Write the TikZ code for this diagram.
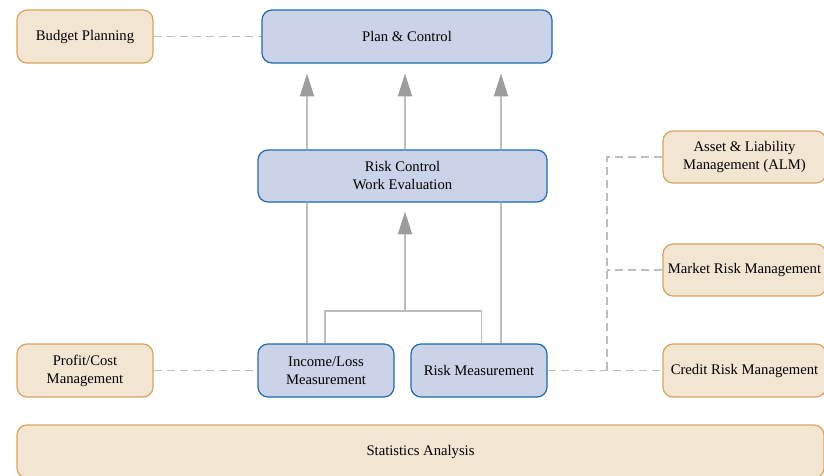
\documentclass[tikz,border=0pt]{standalone}
\usepackage{fontspec}
\setmainfont{Liberation Serif}
\usetikzlibrary{arrows.meta,backgrounds}
\definecolor{bluefill}{HTML}{CBD3E8}
\definecolor{blueline}{HTML}{1E6BB0}
\definecolor{orfill}{HTML}{F2E5D2}
\definecolor{orline}{HTML}{D9A55C}
\definecolor{conn}{HTML}{BDBDBD}
\definecolor{headc}{HTML}{9C9C9C}
\tikzset{
  boxbase/.style={rounded corners=7.5pt, line width=0.9pt, align=center, inner sep=0pt,
    font=\fontsize{11pt}{13.5pt}\selectfont},
  bluebox/.style={boxbase, draw=blueline, fill=bluefill},
  orbox/.style={boxbase, draw=orline, fill=orfill},
  solidconn/.style={draw=conn, line width=1.1pt},
  thinconn/.style={draw=conn, line width=0.8pt},
  dashconn/.style={draw=conn, line width=1pt, dash pattern=on 6pt off 3.75pt},
  uparrow/.style={solidconn, -{Triangle[length=17pt,width=10.5pt,color=headc]}}
}
\begin{document}
\begin{tikzpicture}[x=0.75pt,y=-0.75pt]
\clip (0,0) rectangle (824,475);
% nodes
\node[orbox, minimum width=102pt, minimum height=39.75pt] (budget) at (85,36.5) {Budget Planning};
\node[bluebox, minimum width=217.5pt, minimum height=39.75pt] (plan) at (407,36.5) {Plan \& Control};
\node[bluebox, minimum width=216.75pt, minimum height=39pt] (rcwe) at (402.5,176) {Risk Control\\Work Evaluation};
\node[bluebox, minimum width=102pt, minimum height=39.75pt] (income) at (326,370.5) {Income/Loss\\Measurement};
\node[bluebox, minimum width=102pt, minimum height=39.75pt] (riskm) at (479,370.5) {Risk Measurement};
\node[orbox, minimum width=102pt, minimum height=39.75pt] (profit) at (85,370.5) {Profit/Cost\\Management};
\node[orbox, minimum width=122.25pt, minimum height=39pt] (alm) at (744.5,157) {Asset \& Liability\\Management (ALM)};
\node[orbox, minimum width=122.25pt, minimum height=39pt] (market) at (744.5,270) {Market Risk Management};
\node[orbox, minimum width=122.25pt, minimum height=39.75pt] (credit) at (744.5,370.5) {Credit Risk Management};
\node[orbox, minimum width=605.25pt, minimum height=39.75pt] (stats) at (420.5,451.5) {Statistics Analysis};
% helper coordinates
\coordinate (xl) at (307,0);
\coordinate (xm) at (405,0);
\coordinate (xr) at (501,0);
\coordinate (bl) at (325,0);
\coordinate (br) at (481.5,0);
\coordinate (joint) at (405,311);
\coordinate (jx) at (607,0);
\begin{pgfonlayer}{background}
\fill[white] (0,0) rectangle (824,475);
% dashed links
\draw[dashconn] (budget.east) -- (plan.west);
\draw[dashconn] (profit.east) -- (income.west);
\draw[dashconn] (riskm.east) -- (credit.west);
\draw[dashconn] (alm.west) -| (riskm.east -| jx);
\draw[dashconn] (market.west) -- (market.west -| jx);
% solid links
\draw[solidconn] (income.north -| xl) -- (rcwe.south -| xl);
\draw[solidconn] (riskm.north -| xr) -- (rcwe.south -| xr);
\draw[thinconn] (income.north -| bl) |- (joint) -| (riskm.north -| br);
\draw[uparrow, shorten >=6.75pt] (joint) -- (rcwe.south -| xm);
\draw[uparrow, shorten >=7.5pt] (rcwe.north -| xl) -- (plan.south -| xl);
\draw[uparrow, shorten >=7.5pt] (rcwe.north -| xm) -- (plan.south -| xm);
\draw[uparrow, shorten >=7.5pt] (rcwe.north -| xr) -- (plan.south -| xr);
\end{pgfonlayer}
\end{tikzpicture}
\end{document}
